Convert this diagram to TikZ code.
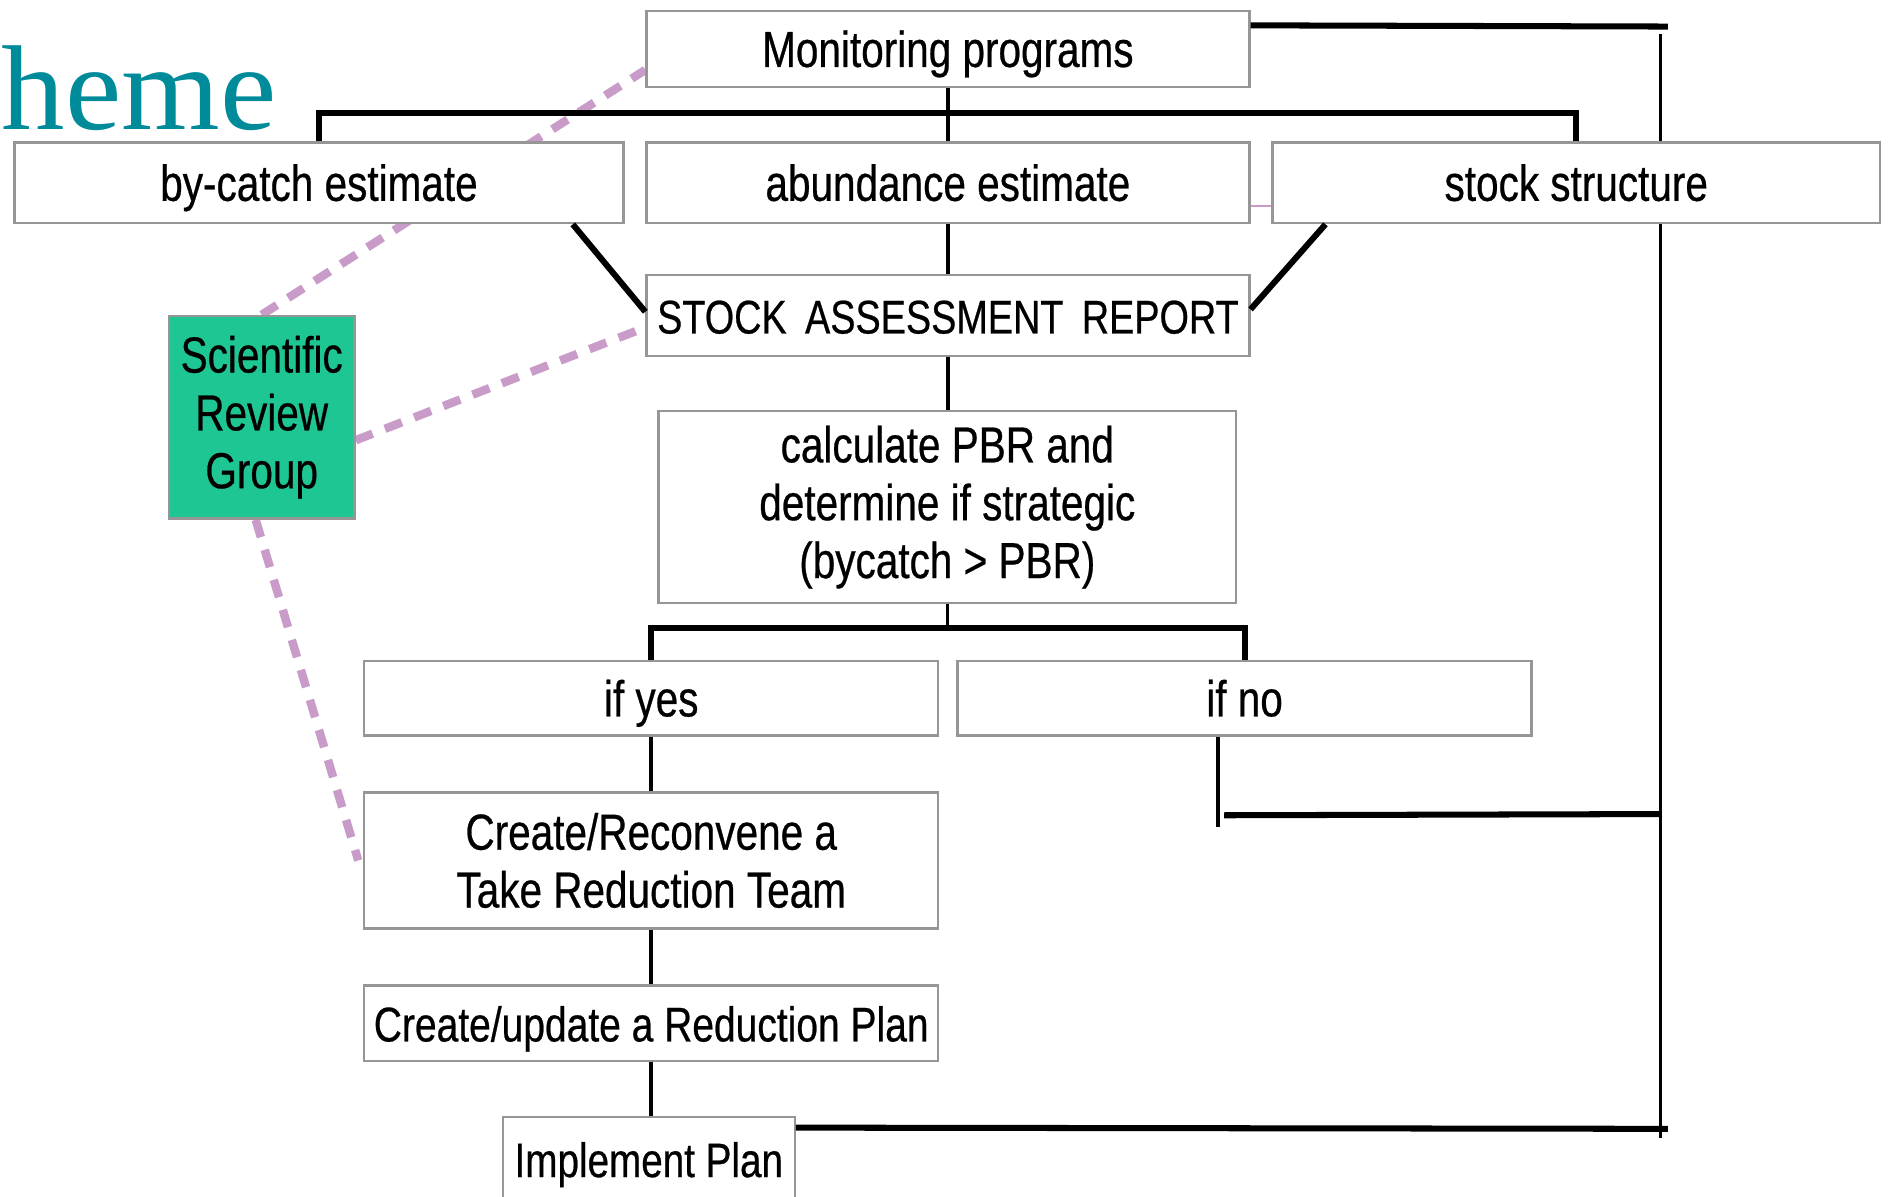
\documentclass[tikz,border=0pt]{standalone}
\usepackage{fontspec}
\setmainfont{Liberation Sans}[FakeStretch=0.8,FakeBold=0.5]
\newfontfamily\hemefont{Liberation Serif}[FakeStretch=1.05]
\usetikzlibrary{calc,backgrounds}
\definecolor{boxgray}{RGB}{150,150,150}
\definecolor{lilac}{RGB}{200,155,200}
\definecolor{srggreen}{RGB}{30,198,148}
\definecolor{hemeteal}{RGB}{0,139,154}
\begin{document}
\begin{tikzpicture}[x=0.02cm,y=-0.02cm,
  box/.style={draw=boxgray,line width=0.04cm,fill=white,inner sep=0pt,align=center,
    font=\fontsize{23.9}{27.3}\selectfont},
  oneline/.style={text height=17.1pt,text depth=0pt},
  link/.style={line width=0.06cm,black},
  bus/.style={line width=0.1cm,black},
  diag/.style={line width=0.1cm,black},
  lilacdash/.style={lilac,line width=0.14cm,dash pattern=on 0.3cm off 0.22cm},
  lilacthin/.style={lilac,line width=0.04cm}]
\useasboundingbox (0,0) rectangle (1568,992);
\clip (0,0) rectangle (1568,992);

\node[anchor=base west,inner sep=0pt,text=hemeteal,font=\hemefont\fontsize{57}{60}\selectfont] (title) at (1,107) {heme};

\node[box,oneline,minimum width=10cm,minimum height=1.26cm] (mon) at (786,40.5) {Monitoring programs};
\node[box,oneline,minimum width=10.1cm,minimum height=1.34cm] (bycatch) at (264.5,151.5) {by-catch estimate};
\node[box,oneline,minimum width=10cm,minimum height=1.34cm] (abund) at (786,151.5) {abundance estimate};
\node[box,oneline,minimum width=10.08cm,minimum height=1.34cm] (stock) at (1307,151.5) {stock structure};
\node[box,oneline,minimum width=10cm,minimum height=1.34cm,font=\fontsize{22.3}{27}\selectfont] (sar) at (786,261.5) {STOCK\, ASSESSMENT\, REPORT};
\node[box,minimum width=9.58cm,minimum height=3.18cm] (calc) at (785.5,420.5) {calculate PBR and\\determine if strategic\\(bycatch > PBR)};
\node[box,oneline,minimum width=9.52cm,minimum height=1.24cm] (yes) at (540,579) {if yes};
\node[box,oneline,minimum width=9.52cm,minimum height=1.24cm] (no) at (1032,579) {if no};
\node[box,minimum width=3.08cm,minimum height=3.36cm,fill=srggreen] (srg) at (217,346) {Scientific\\Review\\Group};
\node[box,minimum width=9.52cm,minimum height=2.26cm] (create) at (540,713.5) {Create/Reconvene a\\Take Reduction Team};
\node[box,oneline,minimum width=9.52cm,minimum height=1.26cm,font=\fontsize{23}{27}\selectfont] (update) at (540,848.5) {Create/update a Reduction Plan};
\node[box,oneline,minimum width=4.84cm,minimum height=1.4cm,font=\fontsize{22.8}{27}\selectfont] (impl) at (538,961) {Implement Plan};

\coordinate (rtop) at (1383,22);
\coordinate (rvtop) at (1377,28);
\coordinate (rvbot) at (1377,944);
\coordinate (rmid) at (1377,675);
\coordinate (rbot) at (1383,936);

\begin{scope}[on background layer]
  \draw[lilacdash] (srg.north) -- ($(mon.south west)+(0,-15)$);
  \draw[lilacdash] ($(srg.east)+(0,19)$) -- ($(sar.west)+(0,10)$);
  \draw[lilacdash] ($(srg.south)+(-5,0)$) -- ($(create.west)+(-4,0)$);
  \draw[lilacthin] ($(abund.south east)+(0,-15)$) -- ($(stock.south west)+(0,-15)$);
  \draw[link] (rvtop) -- (rvbot);
\end{scope}

\draw[link] (mon) -- (abund);
\draw[bus] (bycatch.north) -- ++(0,-23) -| (stock.north);
\draw[link] (abund) -- (sar);
\draw[diag] ($(bycatch.south east)+(-43,0)$) -- ($(sar.west)+(0,-3)$);
\draw[diag] ($(stock.south west)+(45,0)$) -- ($(sar.east)+(0,-5)$);
\draw[link] (sar.south) -- (sar.south |- calc.north);
\draw[link] (calc.south) -- ++(0,20) coordinate (split);
\draw[bus] (yes.north) |- (split) -| (no.north);
\draw[link] (yes) -- (create);
\draw[link] (create) -- (update);
\draw[link] (update.south) -- (update.south |- impl.north);
\draw[link] ($(no.south)+(-22,0)$) -- ++(0,75);
\draw[bus] ($(no.south)+(-17,65)$) -- (rmid);
\draw[bus] ($(mon.north east)+(0,13)$) -- (rtop);
\draw[bus] ($(impl.north east)+(0,10)$) -- (rbot);
\end{tikzpicture}
\end{document}
